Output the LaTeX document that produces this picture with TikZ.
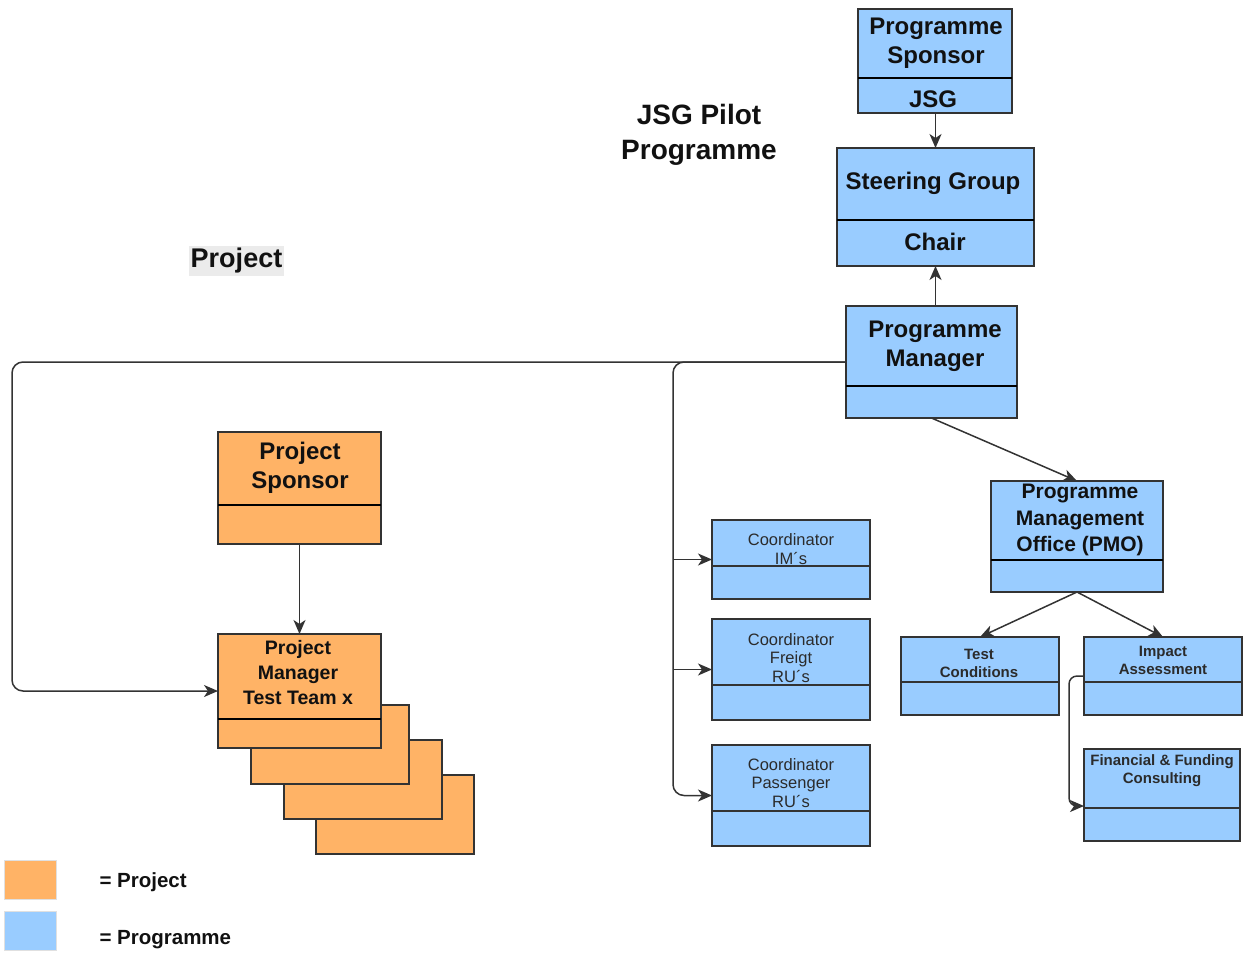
\documentclass[tikz,border=0pt]{standalone}
\usepackage{fontspec}
\setmainfont{Liberation Sans}
\usetikzlibrary{arrows.meta}

\definecolor{projfill}{HTML}{FFB366}
\definecolor{progfill}{HTML}{99CCFF}
\definecolor{edge}{HTML}{333333}
\definecolor{ink}{HTML}{111111}
\definecolor{softink}{HTML}{2B2B2B}

\tikzset{
  boxbase/.style={draw=edge, line width=1.3pt, rectangle, inner sep=0pt,
    outer sep=0pt, anchor=north west},
  progbox/.style={boxbase, fill=progfill},
  projbox/.style={boxbase, fill=projfill},
  divline/.style={draw=black, line width=2.2pt},
  thindiv/.style={draw=edge, line width=1.3pt},
  conn/.style={draw=edge, line width=1.5pt,
    -{Stealth[length=14pt, width=12pt, inset=4pt]}},
  bigtxt/.style={text=ink, align=center, font=\bfseries\fontsize{24}{29}\selectfont},
  midtxt/.style={text=ink, align=center, font=\bfseries\fontsize{21}{26.5}\selectfont},
  pmtxt/.style={text=ink, align=center, font=\bfseries\fontsize{19.5}{25}\selectfont},
  smalltxt/.style={text=softink, align=center, font=\bfseries\fontsize{15}{18}\selectfont},
  coordtxt/.style={text=softink, align=center, font=\fontsize{16.5}{18.5}\selectfont},
  legtxt/.style={text=ink, anchor=west, font=\bfseries\fontsize{20.5}{24}\selectfont},
  legsq/.style={draw=black!12, line width=0.8pt, rectangle, inner sep=0pt,
    outer sep=0pt, anchor=north west, minimum width=52pt, minimum height=39pt}
}

\begin{document}
\begin{tikzpicture}[x=1pt, y=-1pt]
\useasboundingbox (0,0) rectangle (1244,953);

% headings
\node[text=ink, align=center, font=\bfseries\fontsize{28}{35}\selectfont]
  (title) at (699,135) {JSG Pilot\\Programme};
\node[text=ink, fill=black!8, inner sep=2pt, font=\bfseries\fontsize{27}{32}\selectfont]
  (projlabel) at (236.5,261) {Project};

% programme side
\node[progbox, minimum width=154pt, minimum height=104pt] (psp) at (858,9) {};
\draw[divline] (psp.west |- 0,78) -- (psp.east |- 0,78);
\node[bigtxt] (psptxt) at (936,43) {Programme\\Sponsor};
\node[bigtxt] (jsg) at (933,99) {JSG};

\node[progbox, minimum width=197pt, minimum height=118pt] (sg) at (837,148) {};
\draw[divline] (sg.west |- 0,220) -- (sg.east |- 0,220);
\node[bigtxt] (sgtxt) at (933,183) {Steering Group};
\node[bigtxt] (chair) at (935,242) {Chair};

\node[progbox, minimum width=171pt, minimum height=112pt] (pm) at (846,306) {};
\draw[divline] (pm.west |- 0,386) -- (pm.east |- 0,386);
\node[bigtxt] (pmtxt) at (935,346) {Programme\\Manager};

\node[progbox, minimum width=172pt, minimum height=111pt] (pmo) at (991,481) {};
\draw[divline] (pmo.west |- 0,560) -- (pmo.east |- 0,560);
\node[midtxt] (pmotxt) at (1080,520) {Programme\\Management\\Office (PMO)};

\node[progbox, minimum width=158pt, minimum height=78pt] (tc) at (901,637) {};
\draw[thindiv] (tc.west |- 0,682) -- (tc.east |- 0,682);
\node[smalltxt] (tctxt) at (979,663) {Test\\Conditions};

\node[progbox, minimum width=158pt, minimum height=78pt] (ia) at (1084,637) {};
\draw[thindiv] (ia.west |- 0,682) -- (ia.east |- 0,682);
\node[smalltxt] (iatxt) at (1163,660) {Impact\\Assessment};

\node[progbox, minimum width=156pt, minimum height=92pt] (ffc) at (1084,749) {};
\draw[thindiv] (ffc.west |- 0,808) -- (ffc.east |- 0,808);
\node[smalltxt] (ffctxt) at (1162,771) {Financial \& Funding\\Consulting};

\node[progbox, minimum width=158pt, minimum height=79pt] (c1) at (712,520) {};
\draw[thindiv] (c1.west |- 0,566) -- (c1.east |- 0,566);
\node[coordtxt] (c1txt) at (791,549) {Coordinator\\IM´s};

\node[progbox, minimum width=158pt, minimum height=101pt] (c2) at (712,619) {};
\draw[thindiv] (c2.west |- 0,685) -- (c2.east |- 0,685);
\node[coordtxt] (c2txt) at (791,658) {Coordinator\\Freigt\\RU´s};

\node[progbox, minimum width=158pt, minimum height=101pt] (c3) at (712,745) {};
\draw[thindiv] (c3.west |- 0,811) -- (c3.east |- 0,811);
\node[coordtxt] (c3txt) at (791,783) {Coordinator\\Passenger\\RU´s};

% project side: stacked test teams, back to front
\node[projbox, minimum width=158pt, minimum height=79pt] (tt4) at (316,775) {};
\node[projbox, minimum width=158pt, minimum height=79pt] (tt3) at (284,740) {};
\node[projbox, minimum width=158pt, minimum height=79pt] (tt2) at (251,705) {};

\node[projbox, minimum width=163pt, minimum height=114pt] (prm) at (218,634) {};
\draw[divline] (prm.west |- 0,719) -- (prm.east |- 0,719);
\node[pmtxt] (prmtxt) at (298,673) {Project\\Manager\\Test Team x};

\node[projbox, minimum width=163pt, minimum height=112pt] (ps) at (218,432) {};
\draw[divline] (ps.west |- 0,505) -- (ps.east |- 0,505);
\node[bigtxt] (pstxt) at (300,468) {Project\\Sponsor};

% connectors
\draw[conn] (psp.south -| sg.north) -- (sg.north);
\draw[conn] (pm.north -| sg.south) -- (sg.south);
\draw[conn] (pm.south) -- (pmo.north);
\draw[conn] (pmo.south) -- (tc.north);
\draw[conn] (pmo.south) -- (ia.north);
\draw[conn, rounded corners=8pt] (ia.west) -- (1069,676) -- (1069,806) -- (ffc.west |- 0,806);
\draw[conn] (ps.south) -- (prm.north);
\draw[conn, rounded corners=11pt] (pm.west) -- (12,362) -- (12,691) -- (prm.west);
\draw[conn, rounded corners=11pt] (pm.west) -- (673,362) -- (673,795.5) -- (c3.west);
\draw[conn] (c1.west -| 673,0) -- (c1.west);
\draw[conn] (c2.west -| 673,0) -- (c2.west);

% legend
\node[legsq, fill=projfill] (legproj) at (4,860) {};
\node[legsq, fill=progfill] (legprog) at (4,911) {};
\node[legtxt] (legprojtxt) at (96,882) {= Project};
\node[legtxt] (legprogtxt) at (96,940) {= Programme};
\end{tikzpicture}
\end{document}
